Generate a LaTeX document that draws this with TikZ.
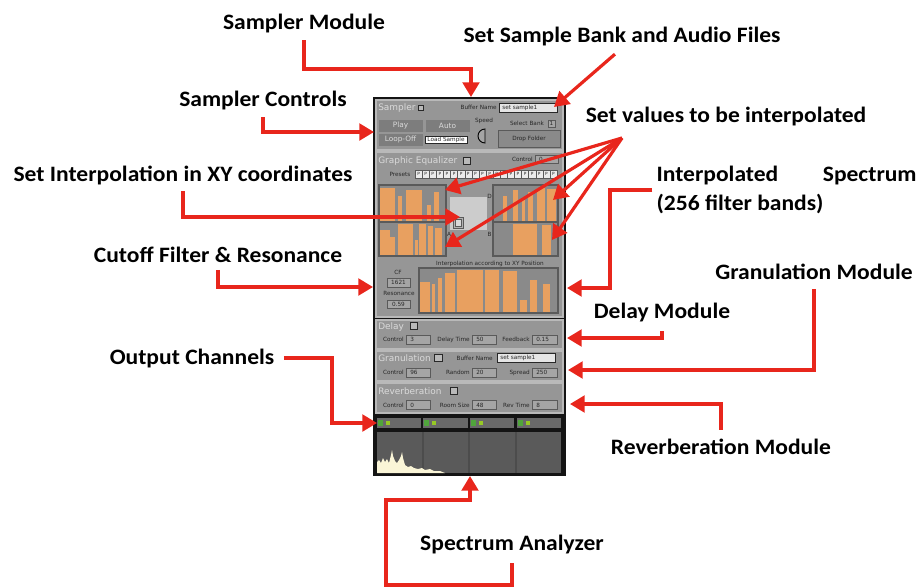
\documentclass[tikz,border=0pt]{standalone}
\usepackage{fontspec}
\setmainfont{Carlito}
\newfontfamily\lblfont[FakeStretch=1.07]{Carlito}
\newfontfamily\guifont{DejaVu Sans}
\usetikzlibrary{arrows.meta, positioning, calc}

\definecolor{callred}{RGB}{232,38,28}
\definecolor{guibg}{RGB}{150,150,150}
\definecolor{secedge}{RGB}{185,185,185}
\definecolor{graphbg}{RGB}{138,138,138}
\definecolor{graphedge}{RGB}{90,90,90}
\definecolor{eqorange}{RGB}{232,160,96}
\definecolor{btngray}{RGB}{125,125,125}
\definecolor{titlegray}{RGB}{218,218,218}
\definecolor{guitext}{RGB}{40,40,40}
\definecolor{boxfill}{RGB}{165,165,165}
\definecolor{meterbg}{RGB}{105,105,105}
\definecolor{metergreen}{RGB}{80,165,60}
\definecolor{analyzerbg}{RGB}{90,90,90}
\definecolor{speccream}{RGB}{250,245,215}

\tikzset{
  lbl/.style={font={\lblfont\bfseries\fontsize{16.5}{21.5}\selectfont}, inner sep=1pt},
  callout/.style={draw=callred, line width=2.4pt, -{Triangle[length=11pt,width=12.5pt]}, shorten <=4pt},
  section/.style={fill=guibg, draw=secedge, line width=0.8pt},
  ttl/.style={font={\guifont\fontsize{6.7}{7}\selectfont}, text=titlegray, inner sep=0pt, anchor=west},
  tiny/.style={font={\guifont\fontsize{4.3}{5}\selectfont}, text=guitext, inner sep=0pt},
  btntxt/.style={font={\guifont\fontsize{5.5}{6}\selectfont}, text=titlegray, inner sep=0pt},
  btn/.style={fill=btngray, draw=guibg, line width=0.5pt},
  numbox/.style={fill=boxfill, draw=graphedge, line width=0.5pt},
  chk/.style={fill=secedge, draw=guitext, line width=0.4pt},
  graphline/.style={draw=graphedge, line width=0.8pt}
}

\begin{document}
\begin{tikzpicture}[x=0.75pt, y=-0.75pt]
\useasboundingbox (0,0) rectangle (924,587);

% panel and sections
\fill[black!92] (373,97) rectangle (566,476);
\draw[section] (376,100) rectangle (563,150);
\draw[section] (376,152) rectangle (563,317);
\draw[section] (376,320) rectangle (563,349);
\draw[section] (376,351) rectangle (563,381);
\draw[section] (376,383) rectangle (563,413);

% sampler
\node[ttl] (sttl) at (378,108) {Sampler};
\draw[chk] (418,105) rectangle (423,110);
\node[tiny, anchor=east] (sbuf) at (497,107.5) {Buffer Name};
\draw[fill=white!90!black, draw=guitext, line width=0.4pt] (499,103) rectangle (557,112);
\node[tiny, anchor=west] (sbufv) at (502,107.5) {set sample1};
\draw[btn] (378,119) rectangle (423,132);
\draw[btn] (425,119) rectangle (470,132);
\draw[btn] (378,133) rectangle (423,146);
\node[btntxt] (splay) at (400.5,125.5) {Play};
\node[btntxt] (sauto) at (447.5,125.5) {Auto};
\node[btntxt] (sloop) at (400.5,139.5) {Loop-Off};
\draw[fill=white, draw=guitext, line width=0.4pt] (425,136) rectangle (467,143);
\node[tiny] (sload) at (446,139.5) {Load Sample};
\node[tiny] (sspeed) at (484,121) {Speed};
\draw[fill=boxfill, draw=black, line width=0.7pt] (485,143) arc[start angle=90, end angle=270, radius=7] -- cycle;
\node[tiny] (ssel) at (527,123) {Select Bank};
\draw[numbox] (548,120) rectangle (555,127);
\node[tiny] (sselv) at (551.5,123.5) {1};
\draw[fill=btngray!90!white, draw=graphedge, line width=0.6pt] (498,130) rectangle (560,147);
\node[tiny] (sdrop) at (529,138.5) {Drop Folder};

% graphic equalizer
\node[ttl] (ettl) at (378,161) {Graphic Equalizer};
\draw[chk] (463,157) rectangle (470,164);
\node[tiny, anchor=east] (ectl) at (533,159) {Control};
\draw[numbox] (535,155) rectangle (558,163);
\node[tiny] (ectlv) at (541,159) {0};
\node[tiny] (epre) at (400,174) {Presets};
\foreach \i in {0,...,19} {
  \draw[fill=white!92!black, draw=graphedge, line width=0.3pt] (415+\i*7.1,170) rectangle ++(7.1,8);
  \node[font={\guifont\fontsize{3.2}{4}\selectfont}, text=guitext, inner sep=0pt] (p\i) at (418.55+\i*7.1,174) {P};
}
% four preset spectra
\fill[graphbg] (379,185) rectangle (446,256);
\fill[graphbg] (493,185) rectangle (558,256);
\foreach \a/\b/\t in {379/395/188, 398/402/196, 406/422/190, 427/431/205, 434/439/192}
  \fill[eqorange] (\a,222) rectangle (\b,\t);
\foreach \a/\b/\t in {380/390/230, 390/395/237, 398/413/224, 415/418/240, 419/426/224, 428/433/226, 435/442/228}
  \fill[eqorange] (\a,256) rectangle (\b,\t);
\foreach \a/\b/\t in {503/507/196, 513/518/190, 522/525/200, 528/533/192, 537/545/188, 547/556/189}
  \fill[eqorange] (\a,222) rectangle (\b,\t);
\foreach \a/\b/\t in {513/537/224, 542/551/225}
  \fill[eqorange] (\a,256) rectangle (\b,\t);
\draw[graphline] (379,185) rectangle (446,222) (379,222) rectangle (446,256);
\draw[graphline] (493,185) rectangle (558,222) (493,222) rectangle (558,256);
% xy pad
\fill[white!80!black] (450,197) rectangle (487,230);
\draw[fill=white!70!black, draw=graphedge, line width=0.5pt] (453,217) rectangle (463,228);
\draw[fill=white!85!black, draw=graphedge, line width=0.4pt] (455,219) rectangle (461,226);
\node[tiny] (xyd) at (489.5,196) {D};
\node[tiny] (xya) at (449,234) {A};
\node[tiny] (xyb) at (489.5,234) {B};
% interpolated spectrum
\node[tiny] (einterp) at (490,264) {Interpolation according to XY Position};
\node[tiny] (ecf) at (398,272) {CF};
\draw[numbox] (387,278) rectangle (410,287);
\node[tiny] (ecfv) at (398.5,282.5) {1621};
\node[tiny] (eres) at (399,293) {Resonance};
\draw[numbox] (387,300) rectangle (410,308);
\node[tiny] (eresv) at (398.5,304) {0.59};
\fill[graphbg] (419,268) rectangle (558,313);
\foreach \a/\b/\t in {420/430/282, 432/435/284, 438/442/278, 445/455/273, 457/483/270, 485/499/270, 503/517/271, 520/527/300, 530/537/280, 543/550/284}
  \fill[eqorange] (\a,313) rectangle (\b,\t);
\draw[graphline] (419,268) rectangle (558,313);

% delay
\node[ttl] (dttl) at (378,327) {Delay};
\draw[chk] (410,322) rectangle (417,329);
% granulation
\node[ttl] (gttl) at (378,358) {Granulation};
\draw[chk] (434,354) rectangle (442,361);
\node[tiny, anchor=east] (gbuf) at (493,358) {Buffer Name};
\draw[fill=white!90!black, draw=guitext, line width=0.4pt] (497,353) rectangle (555,362);
\node[tiny, anchor=west] (gbufv) at (500,357.5) {set sample1};
% reverberation
\node[ttl] (rttl) at (378,391) {Reverberation};
\draw[chk] (450,387) rectangle (457,394);
% parameter rows
\foreach \y/\la/\va/\lb/\vb/\lc/\vc/\n in {339.5/Control/3/Delay Time/50/Feedback/0.15/d,
    372.5/Control/96/Random/20/Spread/250/g,
    405/Control/0/Room Size/48/Rev Time/8/r} {
  \node[tiny, anchor=east] (\n la) at (404,\y) {\la};
  \draw[numbox] (406,\y-4.5) rectangle (430,\y+4.5);
  \node[tiny, anchor=west] (\n va) at (410,\y) {\va};
  \node[tiny, anchor=east] (\n lb) at (470,\y) {\lb};
  \draw[numbox] (472,\y-4.5) rectangle (496,\y+4.5);
  \node[tiny, anchor=west] (\n vb) at (476,\y) {\vb};
  \node[tiny, anchor=east] (\n lc) at (530,\y) {\lc};
  \draw[numbox] (532,\y-4.5) rectangle (557,\y+4.5);
  \node[tiny, anchor=west] (\n vc) at (536,\y) {\vc};
}

% output channels
\foreach \a/\b in {377/421, 423/468, 470/514, 517/561} {
  \fill[meterbg] (\a,418) rectangle (\b,428);
  \fill[metergreen] (\a+1,420) rectangle (\a+6,426);
  \fill[metergreen!60!yellow] (\a+9,421) rectangle (\a+13,425);
}
% spectrum analyzer
\fill[analyzerbg] (377,432) rectangle (561,473);
\draw[black!70, line width=0.8pt] (423,432) -- (423,473) (469,432) -- (469,473) (516,432) -- (516,473);
\fill[speccream] (377,473) -- (377,462) -- (379,460) -- (381,463) -- (383,458) -- (385,462) -- (387,459)
  -- (389,463) -- (391,455) -- (392,450) -- (393,456) -- (395,461) -- (397,463) -- (399,460) -- (401,456)
  -- (402,452) -- (403,458) -- (405,465) -- (408,467) -- (411,466) -- (414,468) -- (418,469) -- (422,468)
  -- (425,470) -- (430,469) -- (434,471) -- (440,471) -- (445,473) -- cycle;

% labels
\node[lbl] (sampmod) at (304,24) {Sampler Module};
\node[lbl] (setbank) at (622,37) {Set Sample Bank and Audio Files};
\node[lbl] (sampctl) at (263,101) {Sampler Controls};
\node[lbl] (setvals) at (726,117) {Set values to be interpolated};
\node[lbl] (setxy) at (183,175) {Set Interpolation in XY coordinates};
\node[lbl, anchor=west, align=left] (interp) at (655,190) {\makebox[195pt][l]{Interpolated\hfill Spectrum}\\(256 filter bands)};
\node[lbl] (cutoff) at (218,255) {Cutoff Filter \& Resonance};
\node[lbl] (granmod) at (814,272) {Granulation Module};
\node[lbl] (delmod) at (662,312) {Delay Module};
\node[lbl] (outch) at (192,358) {Output Channels};
\node[lbl] (revmod) at (721,447) {Reverberation Module};
\node[lbl] (specan) at (512,544) {Spectrum Analyzer};

% targets
\coordinate (tsamp) at (471,97);
\coordinate (tbank) at (554,107);
\coordinate (tsctl) at (374,132);
\coordinate (fan) at (622,138);
\coordinate (tv1) at (445,190);
\coordinate (tv2) at (445,247);
\coordinate (tv3) at (553,200);
\coordinate (tv4) at (552,240);
\coordinate (txy) at (460,217);
\coordinate (tinterp) at (567,288);
\coordinate (tcut) at (373,287);
\coordinate (tgran) at (568,370);
\coordinate (tdelay) at (567,338);
\coordinate (trev) at (570,404);
\coordinate (tout) at (377,423);
\coordinate (tspec) at (470,476);

% callouts
\draw[callout] (sampmod.south) |- (471,69) -- (tsamp);
\draw[callout, shorten <=7pt] (setbank.south) -- (tbank);
\draw[callout] (sampctl.south) |- (tsctl);
\foreach \t in {tv1, tv2, tv3, tv4}
  \draw[callout, shorten <=0pt] (fan) -- (\t);
\draw[callout] (setxy.south) |- (txy);
\draw[callout, shorten <=2pt] (interp.west) -| (610,288) -- (tinterp);
\draw[callout] (cutoff.south) |- (tcut);
\draw[callout, shorten <=6pt] (granmod.south) |- (tgran);
\draw[callout, shorten <=6pt] (delmod.south) |- (tdelay);
\draw[callout, shorten <=6pt] (revmod.north) |- (trev);
\draw[callout, shorten <=6pt] (outch.east) -| (332,423) -- (tout);
\draw[callout, shorten <=6pt] (specan.south) |- (386,585) |- (470,500) -- (tspec);
\end{tikzpicture}
\end{document}
